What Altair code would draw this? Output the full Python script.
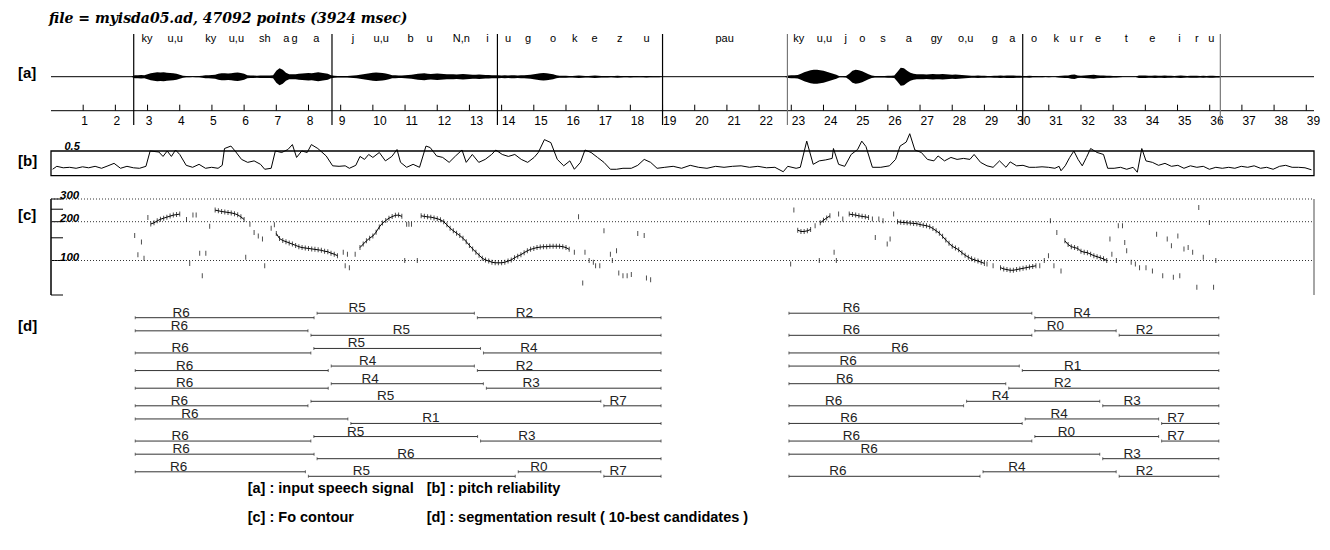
import altair as alt
import pandas as pd

# ---------------- data ----------------
T_END = 39.24                      # 3924 msec, x axis in units of 100 ms
AXIS_TICKS = list(range(1, 40))
TITLE = "file = myisda05.ad, 47092 points (3924 msec)"

BOUNDARIES = [2.57, 8.73, 13.87, 19.0, 22.88, 30.19, 36.33]
GREY_BOUNDARIES = [22.88, 36.33]

PHONES = ["ky", "u,u", "ky", "u,u", "sh", "a", "g", "a", "j", "u,u", "b", "u", "N,n", "i",
          "u", "g", "o", "k", "e", "z", "u", "pau", "ky", "u,u", "j", "o", "s", "a", "gy",
          "o,u", "g", "a", "o", "k", "u", "r", "e", "t", "e", "i", "r", "u"]
PHONE_T = [2.98, 3.86, 4.96, 5.76, 6.64, 7.31, 7.57, 8.24, 9.38, 10.26, 11.17, 11.76, 12.75,
           13.56, 14.20, 14.82, 15.60, 16.27, 16.89, 17.67, 18.50, 20.93, 23.23, 24.03, 24.69,
           25.21, 25.85, 26.65, 27.51, 28.42, 29.32, 29.87, 30.54, 31.23, 31.75, 32.01, 32.53,
           33.41, 34.22, 35.06, 35.60, 36.05]

# speech waveform envelope (peak amplitude), segments of (start time, values every 0.1)
WAVE_STEP = 0.1
WAVE_SEGMENTS = [
    (2.5, [0.0]),
    (2.6, [1.5, 1.5, 1.8, 1.5]),
    (3.0, [2.5, 3.5, 4, 4.5, 4.2, 4.5, 4, 3.8, 3.5, 3, 2]),
    (4.1, [1, 0.6, 0.5, 0.4, 0.5, 0.6, 1]),
    (4.8, [1.5, 1.5, 1.8, 2]),
    (5.2, [3, 3.5, 3.5, 3.2, 3.5, 4, 4.2, 3.8, 3]),
    (6.1, [1.5, 1.2, 1.2, 1, 1.2, 1.3, 1.2, 1.2, 1.5]),
    (7.0, [6, 8.5, 7, 4, 2.5, 2.5, 2.5]),
    (7.7, [3, 3.2, 3.5, 3.8, 3.5, 4, 4.5, 4, 3.5, 3]),
    (8.7, [1.5, 1, 0.8, 0.8, 0.7, 0.8, 1, 1.2, 1.5, 2, 2.5]),
    (9.8, [3, 3.5, 4, 4.2, 4, 3.8, 3.2, 2.5]),
    (10.6, [1.5, 1.5, 1.2, 1.2, 1.5, 1.8, 2, 2.5]),
    (11.4, [3, 3.2, 3.5, 3, 2.8, 3, 3.2, 3, 2.8, 2.5, 2.5]),
    (12.5, [2.5, 2.2, 2.5, 2.8, 2.5, 2.2, 2, 2, 2.2, 2, 1.8, 1.8, 1.5]),
    (13.8, [1.5, 1.5, 1.3, 1.5, 1.2, 1.5, 1.5, 1.3, 1.5, 1.5, 1.8, 2]),
    (15.0, [2.5, 3, 3.5, 3.8, 3.5, 3, 2.5, 1.5]),
    (15.8, [1, 1, 1, 0.8, 0.8, 1, 1.2, 1, 0.8, 0.8, 1, 1.2, 1, 0.8, 0.8, 0.8, 0.6, 0.8, 1, 0.8,
            0.6, 0.6, 0.8, 0.6, 0.6, 0.5, 0.6, 0.8, 0.6, 0.5, 0.5, 0.5]),
    (19.0, [0.0]),
    (22.8, [0.0]),
    (22.9, [1.2, 1.5, 1.5, 1.8]),
    (23.3, [3, 4.5, 5.5, 6.5, 7, 7, 6.5, 6, 5, 4, 3, 2]),
    (24.5, [0.5, 0.5, 0.8]),
    (24.8, [3, 6, 7, 6.5, 5.5, 4, 2.5, 1.2]),
    (25.6, [0.8, 0.8, 0.8, 0.8, 1, 1, 1.2]),
    (26.3, [5, 9, 8.5, 6, 4]),
    (26.8, [3, 2.5, 2.5, 2.5]),
    (27.2, [2.2, 2.5, 2.8, 2.5, 2.5, 2.8, 2.5, 2.2, 2, 2.2, 2, 1.8, 1.5]),
    (28.5, [1.2, 1, 1, 1.2, 1, 1, 0.8, 0.8, 1, 1, 1.2, 1, 1.2, 1.3, 1.2]),
    (30.0, [1, 1, 0.8, 0.8, 1, 0.6, 0.6, 0.5, 0.6, 0.4, 0.5, 0.3, 0.3]),
    (31.3, [0.8, 1, 1.2, 1.2, 2, 2.2, 1.2, 1, 1.2, 1.5, 1.8, 2, 1.5, 1.2, 1.2, 1, 1, 0.8, 0.8, 0.6]),
    (33.3, [0.2, 0.2, 0.2, 0.2, 0.3]),
    (33.8, [1.2, 1.3, 1.2, 1, 1, 1.2, 1, 1, 1.2, 1, 1, 0.8, 1, 1.2, 1, 0.8, 1, 1, 1, 0.8, 1, 0.8,
            1, 1, 0.8, 0.8]),
    (36.4, [0.0]),
]

# pitch reliability
REL_T = [0.05, 0.18, 0.38, 0.58, 0.78, 0.98, 1.17, 1.37, 1.57, 1.77, 1.96, 2.16, 2.36, 2.56, 2.75,
         2.95, 3.08, 3.35, 3.48, 3.61, 3.74, 3.87, 4.00, 4.20, 4.40, 4.60, 4.80, 4.99, 5.19, 5.32,
         5.39, 5.59, 5.72, 5.92, 6.11, 6.31, 6.51, 6.64, 6.84, 6.97, 7.17, 7.36, 7.50, 7.63, 7.79,
         7.96, 8.09, 8.29, 8.55, 8.75, 8.95, 9.14, 9.27, 9.47, 9.60, 9.74, 9.87, 10.00, 10.20,
         10.39, 10.59, 10.75, 10.86, 11.05, 11.25, 11.45, 11.65, 11.78, 11.98, 12.17, 12.37, 12.57,
         12.77, 12.90, 13.09, 13.29, 13.49, 13.69, 13.82, 14.02, 14.21, 14.41, 14.61, 14.81, 15.01,
         15.14, 15.33, 15.53, 15.73, 15.93, 16.12, 16.26, 16.45, 16.59, 16.78, 16.98, 17.18, 17.38,
         17.57, 17.77, 18.03, 18.23, 18.43, 18.63, 18.83,
         19.07, 19.33, 19.59, 19.86, 20.12, 20.38, 20.65, 20.91, 21.17, 21.44, 21.70, 21.96, 22.23,
         22.49, 22.75, 22.89, 23.15, 23.28, 23.48, 23.68, 23.87, 24.07, 24.27, 24.31, 24.47, 24.66,
         24.86, 25.06, 25.19, 25.32, 25.52, 25.78, 26.05, 26.24, 26.38, 26.57, 26.68, 26.84, 27.04,
         27.23, 27.43, 27.56, 27.76, 27.96, 28.15, 28.35, 28.55, 28.68, 28.88, 29.08, 29.27, 29.47,
         29.67, 29.80, 30.00, 30.20, 30.39, 30.59, 30.79, 30.99, 31.19, 31.32, 31.38, 31.51, 31.65,
         31.78, 31.91, 32.04, 32.17, 32.30, 32.50, 32.70, 32.83, 33.03, 33.23, 33.42, 33.62, 33.75,
         33.89, 34.02, 34.22, 34.41, 34.61, 34.81, 35.01, 35.20, 35.40, 35.60, 35.80, 35.99, 36.19,
         36.39, 36.59, 36.78, 36.98, 37.18, 37.38, 37.58, 37.77, 37.97, 38.17, 38.36, 38.56, 38.76,
         38.96, 39.16]
REL_V = [0.13, 0.19, 0.16, 0.17, 0.15, 0.18, 0.16, 0.19, 0.15, 0.20, 0.25, 0.15, 0.19, 0.16, 0.15,
         0.19, 0.50, 0.48, 0.39, 0.50, 0.39, 0.52, 0.43, 0.21, 0.17, 0.23, 0.15, 0.17, 0.15, 0.21,
         0.55, 0.60, 0.50, 0.33, 0.27, 0.30, 0.23, 0.13, 0.15, 0.50, 0.47, 0.53, 0.63, 0.37, 0.50,
         0.47, 0.63, 0.55, 0.40, 0.20, 0.19, 0.20, 0.15, 0.21, 0.39, 0.33, 0.43, 0.37, 0.47,
         0.30, 0.39, 0.53, 0.27, 0.17, 0.23, 0.17, 0.60, 0.57, 0.40, 0.37, 0.27, 0.40,
         0.52, 0.27, 0.43, 0.27, 0.33, 0.43, 0.52, 0.43, 0.39, 0.43, 0.33, 0.27, 0.37,
         0.47, 0.73, 0.67, 0.33, 0.20, 0.30, 0.13, 0.27, 0.52, 0.47, 0.37, 0.27, 0.13,
         0.13, 0.15, 0.15, 0.21, 0.33, 0.27, 0.15,
         0.17, 0.19, 0.15, 0.21, 0.17, 0.15, 0.19, 0.17, 0.19, 0.20, 0.17, 0.19, 0.16,
         0.17, 0.08, 0.19, 0.15, 0.17, 0.70, 0.23, 0.30, 0.32, 0.35, 0.55, 0.23, 0.19,
         0.43, 0.53, 0.70, 0.59, 0.17, 0.17, 0.20, 0.33, 0.60, 0.68, 0.85, 0.52, 0.47,
         0.33, 0.30, 0.40, 0.30, 0.37, 0.33, 0.35, 0.33, 0.43, 0.27, 0.20, 0.17, 0.30,
         0.17, 0.28, 0.20, 0.21, 0.17, 0.17, 0.18, 0.17, 0.15, 0.19, 0.10, 0.20, 0.37,
         0.50, 0.33, 0.20, 0.37, 0.55, 0.47, 0.43, 0.15, 0.15, 0.17, 0.13, 0.17, 0.07,
         0.55, 0.30, 0.27, 0.21, 0.25, 0.19, 0.21, 0.15, 0.20, 0.17, 0.19, 0.13, 0.17,
         0.15, 0.17, 0.15, 0.19, 0.17, 0.20, 0.15, 0.17, 0.13, 0.19, 0.21, 0.17, 0.17,
         0.16, 0.12]

# Fo contour (Hz)
F0_MIN, F0_MAX = 54, 300
F0_TICKS = [300, 250, 200, 150, 100, 54]
F0_GRID = [300, 200, 100]
F0_STEP = 0.1
F0_CONTOURS = [
    (3.1, [192, 196, 203, 209, 213, 217, 221, 225, 227, 229]),
    (5.1, [246, 243, 240, 238, 236, 234, 231, 226, 218, 208]),
    (7.0, [162, 148, 143, 140, 137, 134, 131, 128, 126, 125, 124, 123, 122, 121, 120, 118, 117,
           114, 112, 109]),
    (9.6, [126, 134, 142, 149, 155, 166, 182, 195, 204, 213, 219, 224, 225, 220]),
    (11.5, [222, 220, 218, 217, 214, 211, 207, 200, 189, 178, 170, 163, 156, 149, 140, 131, 123,
            116, 110, 104, 101, 99, 97, 96, 96, 96, 97, 99, 101, 105, 108, 111, 115, 119, 122,
            124, 126, 127, 128, 128, 129, 129, 129, 129, 128, 126, 122]),
    (23.2, [172, 168, 168, 170, 174]),
    (23.9, [196, 205, 214, 222]),
    (24.8, [229, 227, 225, 222, 220, 218, 216]),
    (26.3, [200, 198, 197, 196, 195, 194, 193, 190, 188, 186, 183, 177, 170, 163, 154, 144, 136,
            129, 125, 121, 115, 110, 106, 103, 101, 99, 97, 95]),
    (29.5, [88, 86, 85, 84, 84, 85, 86, 87, 88, 89, 90, 91]),
    (31.5, [142, 133, 128, 126, 124, 118, 116, 115, 112, 109, 107, 105, 103, 100]),
]
F0_SCATTER_T = [2.60, 2.70, 2.81, 2.89, 3.01, 4.21, 4.31, 4.41, 4.51, 4.62, 4.70, 4.81, 4.93, 6.05,
                6.18, 6.31, 6.44, 6.57, 6.64, 6.84, 6.94, 9.08, 9.14, 9.21, 9.27, 9.45, 10.99,
                11.05, 11.12, 11.20, 11.38, 16.26, 16.39, 16.52, 16.59, 16.72, 16.85, 16.92, 17.05,
                17.18, 17.38, 17.44, 17.57, 17.64, 17.77, 17.90, 18.03, 18.23, 18.43, 18.50, 18.63,
                22.98, 23.08, 23.74, 23.87, 24.33, 24.40, 24.47, 24.60, 25.52, 25.61, 25.72, 25.85,
                25.98, 26.07, 26.18, 29.08, 29.27, 30.72, 30.86, 30.99, 31.05, 31.16, 31.25, 31.38,
                32.90, 32.96, 33.10, 33.16, 33.29, 33.36, 33.42, 33.56, 33.69, 33.82, 34.02, 34.22,
                34.35, 34.54, 34.68, 34.81, 34.87, 35.01, 35.07, 35.20, 35.33, 35.47, 35.60, 35.66,
                35.80, 35.99, 36.12, 36.19]
F0_SCATTER_HZ = [156, 111, 139, 104, 216, 208, 95, 225, 225, 114, 76, 114, 184, 106,
                 191, 165, 155, 147, 91, 178, 189, 116, 91, 112, 88, 112, 100,
                 191, 191, 191, 100, 116, 218, 67, 116, 100, 97, 91, 91,
                 170, 112, 100, 119, 80, 76, 76, 78, 162, 156, 73, 71,
                 94, 246, 186, 100, 116, 100, 229, 210, 210, 151, 210, 203,
                 134, 147, 229, 94, 91, 91, 100, 109, 203, 91, 165, 83,
                 147, 112, 100, 186, 186, 138, 119, 97, 94, 88, 88, 83,
                 160, 76, 147, 130, 74, 155, 76, 123, 126, 116, 62, 258,
                 106, 197, 62, 100]

# segmentation result, 10-best candidates for each phrase
SEG_LEFT_SPAN = (2.57, 19.0)
SEG_LEFT_CUTS = [[8.22, 13.20], [8.03], [8.12, 13.39], [8.66, 13.20], [8.66, 13.48],
                 [8.03, 17.13], [9.27], [8.12, 13.30], [8.22], [7.95, 14.47, 17.13]]
SEG_LEFT_LABELS = [["R6", "R5", "R2"], ["R6", "R5"], ["R6", "R5", "R4"], ["R6", "R4", "R2"],
                   ["R6", "R4", "R3"], ["R6", "R5", "R7"], ["R6", "R1"], ["R6", "R5", "R3"],
                   ["R6", "R6"], ["R6", "R5", "R0", "R7"]]
SEG_RIGHT_SPAN = (22.88, 36.33)
SEG_RIGHT_CUTS = [[30.52], [30.52, 33.14], [], [30.13], [29.71], [28.40, 32.63], [30.22, 34.46],
                  [30.52, 34.46], [32.63], [28.91, 33.14]]
SEG_RIGHT_LABELS = [["R6", "R4"], ["R6", "R0", "R2"], ["R6"], ["R6", "R1"], ["R6", "R2"],
                    ["R6", "R4", "R3"], ["R6", "R4", "R7"], ["R6", "R0", "R7"], ["R6", "R3"],
                    ["R6", "R4", "R2"]]

PANEL_TAGS = ["[a]", "[b]", "[c]", "[d]"]
LEGEND = ["[a] : input speech signal", "[b] : pitch reliability",
          "[c] : Fo contour", "[d] : segmentation result ( 10-best candidates )"]

# ---------------- layout / style ----------------
W, H = 1263, 505
SANS = "Liberation Sans"
WAVE_Y = alt.Scale(domain=[-10, 10], range=[58.7, 38.7])
REL_Y = alt.Scale(domain=[0, 0.5], range=[147.7, 123.0])
F0_Y = alt.Scale(type="log", domain=[F0_MIN, F0_MAX], range=[267, 171], nice=False)
ROW_Y = alt.Scale(domain=[1, 10], range=[289.7, 448.3])
HIGH_LIFT = 0.255           # raised segments, in row units
AXIS_Y = 82.7               # time axis line (pixels from plot top)
TAG_Y = [44.5, 133, 187, 298]
LEGEND_X = [196.7, 375.7]
LEGEND_Y = [461, 490]

X_SCALE = alt.Scale(domain=[0, T_END], nice=False, zero=False)


def X(field):
    return alt.X(field, type="quantitative", scale=X_SCALE, axis=None)


one = alt.Data(values=[{}])
layers = []

# ---- [a] speech signal ----
span_df = pd.DataFrame({"t0": [0.0], "t1": [T_END], "y": [0.0]})
layers.append(alt.Chart(span_df).mark_rule(color="black", strokeWidth=1).encode(
    x=X("t0"), x2="t1", y=alt.Y("y:Q", scale=WAVE_Y, axis=None)))

# time axis (line, upward ticks, labels below)
layers.append(alt.Chart(span_df).mark_rule(color="black", strokeWidth=1).encode(
    x=X("t0"), x2="t1", y=alt.value(AXIS_Y)))
tick_df = pd.DataFrame({"t": AXIS_TICKS, "s": [str(v) for v in AXIS_TICKS]})
layers.append(alt.Chart(tick_df).mark_rule(color="black", strokeWidth=1).encode(
    x=X("t"), y=alt.value(AXIS_Y - 6), y2=alt.value(AXIS_Y)))
one_digit = tick_df[tick_df["t"] < 10]
two_digit = tick_df[tick_df["t"] >= 10]
layers.append(alt.Chart(one_digit).mark_text(font=SANS, fontSize=12, baseline="alphabetic",
                                             align="center", dx=1.5, color="black").encode(
    x=X("t"), y=alt.value(AXIS_Y + 14.3), text="s:N"))
layers.append(alt.Chart(two_digit).mark_text(font=SANS, fontSize=12, baseline="alphabetic",
                                             align="left", dx=0.5, color="black").encode(
    x=X("t"), y=alt.value(AXIS_Y + 14.3), text="s:N"))

wave_rows = []
for t0, amps in WAVE_SEGMENTS:
    for i, a in enumerate(amps):
        wave_rows.append({"t": round(t0 + i * WAVE_STEP, 3), "amp": a})
wave_df = pd.DataFrame(wave_rows).sort_values("t").drop_duplicates("t")
wave_df["lo"] = -wave_df["amp"]
layers.append(alt.Chart(wave_df).mark_area(color="black", interpolate="linear").encode(
    x=X("t"), y=alt.Y("amp:Q", scale=WAVE_Y, axis=None), y2="lo:Q"))

bnd_df = pd.DataFrame({"t": BOUNDARIES})
bnd_df["c"] = ["#777777" if t in GREY_BOUNDARIES else "black" for t in BOUNDARIES]
layers.append(alt.Chart(bnd_df).mark_rule(strokeWidth=1.2).encode(
    x=X("t"), y=alt.value(6), y2=alt.value(97), color=alt.Color("c:N", scale=None)))

phone_df = pd.DataFrame({"t": PHONE_T, "p": PHONES})
layers.append(alt.Chart(phone_df).mark_text(font=SANS, fontSize=11, baseline="alphabetic",
                                            color="black").encode(
    x=X("t"), y=alt.value(13.7), text="p:N"))

# ---- [b] pitch reliability ----
box_df = pd.DataFrame({"t0": [0.0], "t1": [T_END], "v0": [0.0], "v1": [0.5]})
layers.append(alt.Chart(box_df).mark_rect(filled=False, stroke="black", strokeWidth=1.3).encode(
    x=X("t0"), x2="t1", y=alt.Y("v0:Q", scale=REL_Y, axis=None), y2="v1:Q"))
rel_df = pd.DataFrame({"t": REL_T, "v": REL_V})
layers.append(alt.Chart(rel_df).mark_line(color="black", strokeWidth=1).encode(
    x=X("t"), y=alt.Y("v:Q", scale=REL_Y, axis=None)))
layers.append(alt.Chart(pd.DataFrame({"v": [0.5], "s": ["0.5"]})).mark_text(
    font=SANS, fontSize=11, fontWeight="bold", fontStyle="italic", align="left",
    baseline="alphabetic", dy=-1).encode(
    x=alt.value(13.5), y=alt.Y("v:Q", scale=REL_Y, axis=None), text="s:N"))

# ---- [c] Fo contour ----
layers.append(alt.Chart(pd.DataFrame({"lo": [F0_MIN], "hi": [F0_MAX]})).mark_rule(
    color="black", strokeWidth=1.5).encode(
    x=alt.value(0), y=alt.Y("lo:Q", scale=F0_Y, axis=None), y2="hi:Q"))
layers.append(alt.Chart(pd.DataFrame({"t": [T_END], "lo": [F0_MIN], "hi": [F0_MAX]})).mark_rule(
    color="#888888", strokeWidth=1.5).encode(
    x=X("t"), y=alt.Y("lo:Q", scale=F0_Y, axis=None), y2="hi:Q"))
layers.append(alt.Chart(pd.DataFrame({"hz": F0_TICKS})).mark_rule(
    color="black", strokeWidth=1).encode(
    x=alt.value(0), x2=alt.value(12), y=alt.Y("hz:Q", scale=F0_Y, axis=None)))
grid_df = pd.DataFrame({"hz": F0_GRID, "t0": 0.0, "t1": T_END})
layers.append(alt.Chart(grid_df).mark_rule(color="#333333", strokeWidth=1,
                                           strokeDash=[1, 2]).encode(
    x=X("t0"), x2="t1", y=alt.Y("hz:Q", scale=F0_Y, axis=None)))
grid_df["s"] = [str(v) for v in F0_GRID]
layers.append(alt.Chart(grid_df).mark_text(
    font=SANS, fontSize=11.5, fontWeight="bold", fontStyle="italic", align="left",
    baseline="alphabetic", dy=0).encode(
    x=alt.value(9), y=alt.Y("hz:Q", scale=F0_Y, axis=None), text="s:N"))

f0_rows = []
for k, (t0, vals) in enumerate(F0_CONTOURS):
    for i, v in enumerate(vals):
        f0_rows.append({"seg": k, "t": round(t0 + i * F0_STEP, 3), "hz": v})
f0_df = pd.DataFrame(f0_rows)
layers.append(alt.Chart(f0_df).mark_line(color="black", strokeWidth=1).encode(
    x=X("t"), y=alt.Y("hz:Q", scale=F0_Y, axis=None), detail="seg:N"))
pts_df = pd.concat([f0_df[["t", "hz"]],
                    pd.DataFrame({"t": F0_SCATTER_T, "hz": F0_SCATTER_HZ})])
layers.append(alt.Chart(pts_df).mark_tick(orient="vertical", size=5, thickness=1,
                                          color="black").encode(
    x=X("t"), y=alt.Y("hz:Q", scale=F0_Y, axis=None)))

# ---- [d] segmentation result ----
seg_rows = []
for span, cuts_list, labels_list in [(SEG_LEFT_SPAN, SEG_LEFT_CUTS, SEG_LEFT_LABELS),
                                     (SEG_RIGHT_SPAN, SEG_RIGHT_CUTS, SEG_RIGHT_LABELS)]:
    for r, (cuts, labels) in enumerate(zip(cuts_list, labels_list)):
        bounds = [span[0]] + cuts + [span[1]]
        n = len(labels)
        for i, lab in enumerate(labels):
            high = (n - 1 - i) % 2 == 1
            a, b = bounds[i], bounds[i + 1]
            seg_rows.append({"t0": a, "t1": b, "lab": lab,
                             "tl": a + 0.26 * (b - a),
                             "y": r + 1 - (HIGH_LIFT if high else 0.0)})
seg_df = pd.DataFrame(seg_rows)
layers.append(alt.Chart(seg_df).mark_rule(color="#333333", strokeWidth=1,
                                          xOffset=1.5, x2Offset=-1.5).encode(
    x=X("t0"), x2="t1", y=alt.Y("y:Q", scale=ROW_Y, axis=None)))
layers.append(alt.Chart(seg_df).mark_tick(orient="vertical", size=3, thickness=1,
                                          color="#333333", xOffset=1.5).encode(
    x=X("t0"), y=alt.Y("y:Q", scale=ROW_Y, axis=None)))
layers.append(alt.Chart(seg_df).mark_tick(orient="vertical", size=3, thickness=1,
                                          color="#333333", xOffset=-1.5).encode(
    x=X("t1"), y=alt.Y("y:Q", scale=ROW_Y, axis=None)))
layers.append(alt.Chart(seg_df).mark_text(font=SANS, fontSize=13.5, baseline="alphabetic",
                                          dy=-1, color="#222222").encode(
    x=X("tl"), y=alt.Y("y:Q", scale=ROW_Y, axis=None), text="lab:N"))

# ---- labels, title, legend ----
for tag, ty in zip(PANEL_TAGS, TAG_Y):
    layers.append(alt.Chart(one).mark_text(font=SANS, fontSize=15, fontWeight="bold",
                                           align="left", baseline="middle").encode(
        x=alt.value(-33), y=alt.value(ty), text=alt.value(tag)))
layers.append(alt.Chart(one).mark_text(font="DejaVu Serif", fontSize=14, fontWeight="bold",
                                       fontStyle="italic", align="left",
                                       baseline="alphabetic").encode(
    x=alt.value(-2), y=alt.value(-5.5), text=alt.value(TITLE)))
for k, txt in enumerate(LEGEND):
    layers.append(alt.Chart(one).mark_text(font=SANS, fontSize=14.5, fontWeight="bold",
                                           align="left", baseline="middle").encode(
        x=alt.value(LEGEND_X[k % 2]), y=alt.value(LEGEND_Y[k // 2]), text=alt.value(txt)))

chart = alt.layer(*layers).resolve_scale(y="independent").properties(
    width=W, height=H,
    autosize=alt.AutoSizeParams(type="none"),
    padding={"left": 43, "top": 20, "right": 7, "bottom": 6},
    background="white",
).configure_view(strokeWidth=0)

chart.save("out.html", embed_options={"renderer": "svg", "actions": False})
